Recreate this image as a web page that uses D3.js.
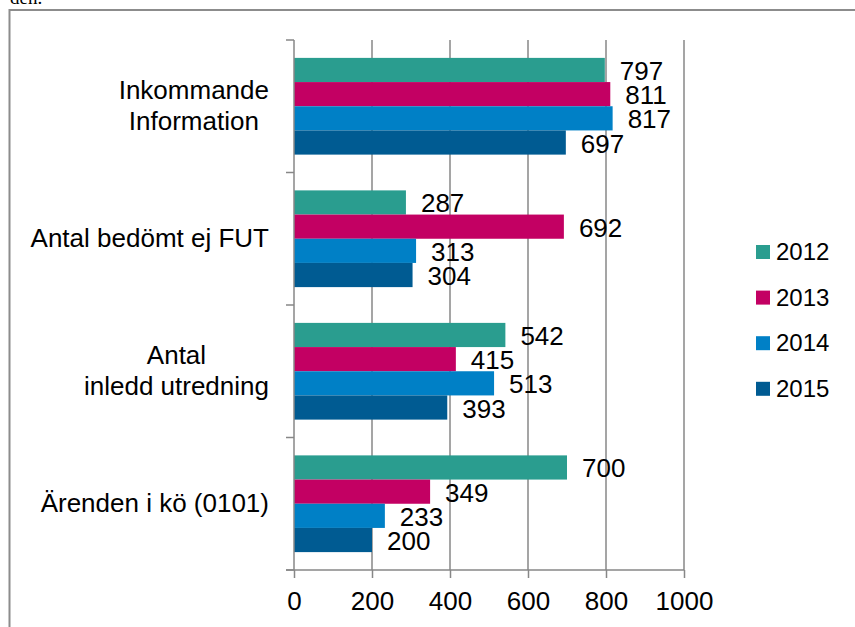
<!DOCTYPE html>
<html>
<head>
<meta charset="utf-8">
<script src="https://cdn.jsdelivr.net/npm/d3@7"></script>
<style>
	body { margin: 0; background: #fff; }
	text { font-family: "Liberation Sans", Arial, sans-serif; fill: #000; }
</style>
</head>
<body>
<div id="chart-area"></div>
<script>
// Data
const categories = [["Inkommande", "Information"], ["Antal bedömt ej FUT"], ["Antal", "inledd utredning"], ["Ärenden i kö (0101)"]];
const years = ["2012", "2013", "2014", "2015"];
const values2012 = [797, 287, 542, 700];
const values2013 = [811, 692, 415, 349];
const values2014 = [817, 313, 513, 233];
const values2015 = [697, 304, 393, 200];
const xTicks = [0, 200, 400, 600, 800, 1000];

const seriesValues = [values2012, values2013, values2014, values2015];
const colors = ["#2a9d8f", "#c30063", "#0080c6", "#005b92"];

var width = 855, height = 627;

var svg = d3.select("#chart-area").append("svg")
	.attr("width", width)
	.attr("height", height);

svg.append("rect")
	.attr("width", width).attr("height", height)
	.attr("fill", "#fff");

// text from the page above the chart, cut off
svg.append("text")
	.attr("x", 10)
	.attr("y", 4)
	.style("font-family", "'Liberation Serif', 'Times New Roman', serif")
	.style("font-size", "19px")
	.text("den.");

// frame
svg.append("path")
	.attr("d", "M9.5,627 L9.5,10 L855,10")
	.attr("fill", "none")
	.attr("stroke", "#8c8c8c")
	.attr("stroke-width", 2);

var x = d3.scaleLinear()
	.domain([0, 1000])
	.range([294, 684]);

var catIdx = categories.map((d, i) => i);
var y = d3.scaleBand()
	.domain(catIdx)
	.range([40, 570])
	.paddingInner(0.27)
	.paddingOuter(0.135);

var ySub = d3.scaleBand()
	.domain(years)
	.range([0, y.bandwidth()]);

var gridColor = "#878787";

// gridlines
svg.append("g")
	.selectAll("line")
	.data(xTicks.slice(1))
	.join("line")
	.attr("x1", d => x(d)).attr("x2", d => x(d))
	.attr("y1", 40).attr("y2", 570)
	.attr("stroke", gridColor)
	.attr("stroke-width", 1.5);

// bars
var groups = svg.append("g")
	.selectAll("g")
	.data(catIdx)
	.join("g")
	.attr("transform", d => "translate(0," + y(d) + ")");

groups.selectAll("rect")
	.data(c => years.map((yr, s) => ({ year: yr, s: s, value: seriesValues[s][c] })))
	.join("rect")
	.attr("x", x(0))
	.attr("y", d => ySub(d.year))
	.attr("width", d => x(d.value) - x(0))
	.attr("height", ySub.bandwidth())
	.attr("fill", d => colors[d.s]);

groups.selectAll("text")
	.data(c => years.map((yr, s) => ({ year: yr, s: s, value: seriesValues[s][c] })))
	.join("text")
	.attr("x", d => x(d.value) + 15)
	.attr("y", d => ySub(d.year) + ySub.bandwidth() / 2 + 10)
	.style("font-size", "26px")
	.text(d => d.value);

// x axis
var xAxis = d3.axisBottom(x)
	.tickValues(xTicks)
	.tickFormat(d3.format("d"))
	.tickSize(8)
	.tickPadding(14)
	.tickSizeOuter(0);

var gx = svg.append("g")
	.attr("transform", "translate(0,570)")
	.call(xAxis);
gx.select(".domain").remove();
gx.selectAll("line").attr("stroke", gridColor).attr("stroke-width", 1.5);
gx.selectAll("text")
	.style("font-size", "26px")
	.style("font-family", "'Liberation Sans', Arial, sans-serif")
	.attr("fill", "#000");

svg.append("line")
	.attr("x1", 286).attr("x2", x(1000))
	.attr("y1", 570).attr("y2", 570)
	.attr("stroke", gridColor).attr("stroke-width", 1.5);

// category axis
var catTicks = catIdx.map(i => y(i) - y.step() * y.paddingInner() / 2).concat([570]);
svg.append("line")
	.attr("x1", x(0)).attr("x2", x(0))
	.attr("y1", 40).attr("y2", 570)
	.attr("stroke", gridColor).attr("stroke-width", 1.5);
svg.append("g")
	.selectAll("line")
	.data(catTicks)
	.join("line")
	.attr("x1", 286).attr("x2", x(0))
	.attr("y1", d => d).attr("y2", d => d)
	.attr("stroke", gridColor).attr("stroke-width", 1.5);

// category labels, right aligned block with centered lines
var lineH = 31.5, labelRight = 269;
categories.forEach((lines, i) => {
	var cy = y(i) + y.bandwidth() / 2;
	var t = svg.append("text")
		.attr("text-anchor", "middle")
		.style("font-size", "26px");
	lines.forEach((ln, j) => {
		t.append("tspan")
			.attr("y", cy + 8 - (lines.length - 1) * lineH / 2 + j * lineH)
			.text(ln);
	});
	var maxW = d3.max(t.selectAll("tspan").nodes(), n => n.getComputedTextLength());
	t.selectAll("tspan").attr("x", labelRight - maxW / 2);
});

// legend
var legend = svg.append("g")
	.selectAll("g")
	.data(years)
	.join("g")
	.attr("transform", (d, i) => "translate(756," + (245 + i * 45.6) + ")");

legend.append("rect")
	.attr("width", 14).attr("height", 14)
	.attr("fill", (d, i) => colors[i]);

legend.append("text")
	.attr("x", 20)
	.attr("y", 15)
	.style("font-size", "24px")
	.text(d => d);
</script>
</body>
</html>
